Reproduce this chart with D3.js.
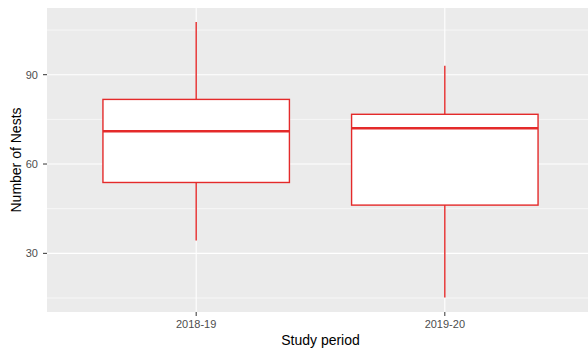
<!DOCTYPE html>
<html>
<head>
<meta charset="utf-8">
<script src="https://cdn.jsdelivr.net/npm/d3@7"></script>
<style>
  html, body { margin: 0; padding: 0; background: #fff; }
  svg { display: block; font-family: "Liberation Sans", Arial, sans-serif; }
</style>
</head>
<body>
<svg id="chart" width="588" height="349"></svg>
<script>
// Nest counts per study period: five-number summaries
const periods = ["2018-19", "2019-20"];
const whiskerLow = [34.3, 15.2];
const q1 = [53.8, 46.2];
const median = [71, 72];
const q3 = [81.7, 76.7];
const whiskerHigh = [107.7, 93];
const yTicks = [30, 60, 90];
const yMinorTicks = [15, 45, 75, 105];

const svg = d3.select("#chart");
const W = 588, H = 349;
const margin = { left: 47, top: 8, bottom: 37 };
const panelRight = 594;
const tickLen = 4;

const x = d3.scaleLinear().domain([0.4, 2.6]).range([margin.left, panelRight]);
const y = d3.scaleLinear().domain([10.3, 112.4]).range([H - margin.bottom, margin.top]);

const panelH = H - margin.bottom - margin.top;

// panel background
svg.append("rect")
  .attr("x", margin.left).attr("y", margin.top)
  .attr("width", panelRight - margin.left).attr("height", panelH)
  .attr("fill", "#EBEBEB");

const grid = svg.append("g");
grid.selectAll("line.minor").data(yMinorTicks).join("line")
  .attr("class", "minor")
  .attr("x1", margin.left).attr("x2", panelRight)
  .attr("y1", d => y(d)).attr("y2", d => y(d))
  .attr("stroke", "#fff").attr("stroke-width", 0.6);
grid.selectAll("line.major").data(yTicks).join("line")
  .attr("class", "major")
  .attr("x1", margin.left).attr("x2", panelRight)
  .attr("y1", d => y(d)).attr("y2", d => y(d))
  .attr("stroke", "#fff").attr("stroke-width", 1.1);
grid.selectAll("line.vmajor").data(periods).join("line")
  .attr("class", "vmajor")
  .attr("x1", (d, i) => x(i + 1)).attr("x2", (d, i) => x(i + 1))
  .attr("y1", margin.top).attr("y2", margin.top + panelH)
  .attr("stroke", "#fff").attr("stroke-width", 1.1);

// boxplots
const red = "#E42A2A";
const halfW = 0.375;
const boxes = svg.append("g");
periods.forEach((p, i) => {
  const cx = x(i + 1);
  const g = boxes.append("g");
  g.append("line")
    .attr("x1", cx).attr("x2", cx)
    .attr("y1", y(q3[i])).attr("y2", y(whiskerHigh[i]))
    .attr("stroke", red).attr("stroke-width", 1.4);
  g.append("line")
    .attr("x1", cx).attr("x2", cx)
    .attr("y1", y(q1[i])).attr("y2", y(whiskerLow[i]))
    .attr("stroke", red).attr("stroke-width", 1.4);
  g.append("rect")
    .attr("x", x(i + 1 - halfW)).attr("width", x(i + 1 + halfW) - x(i + 1 - halfW))
    .attr("y", y(q3[i])).attr("height", y(q1[i]) - y(q3[i]))
    .attr("fill", "#fff").attr("stroke", red).attr("stroke-width", 1.4);
  g.append("line")
    .attr("x1", x(i + 1 - halfW)).attr("x2", x(i + 1 + halfW))
    .attr("y1", y(median[i])).attr("y2", y(median[i]))
    .attr("stroke", red).attr("stroke-width", 2.4);
});

// y axis
const yAxis = svg.append("g");
yTicks.forEach(t => {
  yAxis.append("line")
    .attr("x1", margin.left - tickLen).attr("x2", margin.left)
    .attr("y1", y(t)).attr("y2", y(t))
    .attr("stroke", "#333").attr("stroke-width", 1);
  yAxis.append("text")
    .attr("x", margin.left - tickLen - 5).attr("y", y(t))
    .attr("dy", "0.35em").attr("text-anchor", "end")
    .attr("font-size", 11).attr("fill", "#4D4D4D")
    .text(t);
});

// x axis
const xAxis = svg.append("g");
periods.forEach((p, i) => {
  const cx = x(i + 1);
  xAxis.append("line")
    .attr("x1", cx).attr("x2", cx)
    .attr("y1", margin.top + panelH).attr("y2", margin.top + panelH + tickLen)
    .attr("stroke", "#333").attr("stroke-width", 1);
  xAxis.append("text")
    .attr("x", cx).attr("y", margin.top + panelH + 16)
    .attr("text-anchor", "middle")
    .attr("font-size", 11).attr("fill", "#4D4D4D")
    .text(p);
});

// axis titles
svg.append("text")
  .attr("x", (margin.left + panelRight) / 2).attr("y", 345)
  .attr("text-anchor", "middle").attr("font-size", 14).attr("fill", "#000")
  .text("Study period");
svg.append("text")
  .attr("transform", `translate(21, ${margin.top + panelH / 2}) rotate(-90)`)
  .attr("text-anchor", "middle").attr("font-size", 14).attr("fill", "#000")
  .text("Number of Nests");
</script>
</body>
</html>
